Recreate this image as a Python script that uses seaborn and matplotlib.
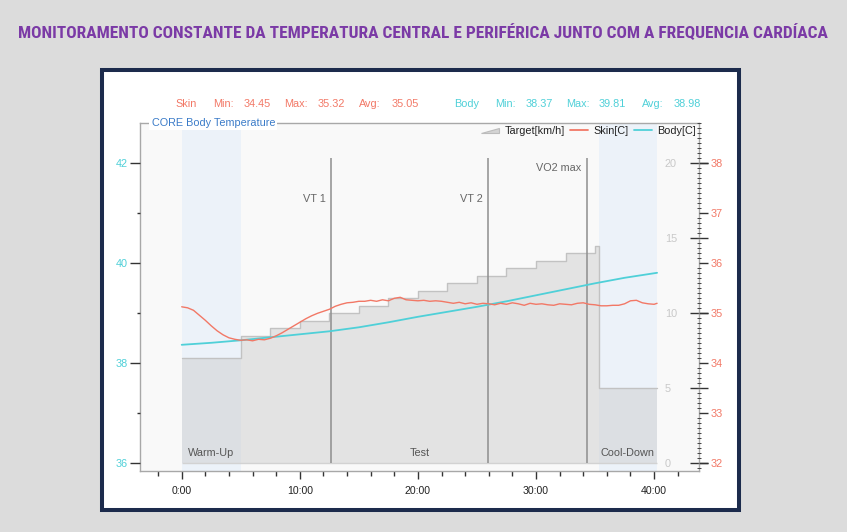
import matplotlib
matplotlib.use("Agg")
import matplotlib.pyplot as plt
import seaborn as sns
import numpy as np
import pandas as pd
from matplotlib.patches import Rectangle, Polygon
from matplotlib.lines import Line2D
from matplotlib.legend_handler import HandlerPatch
from matplotlib.ticker import MultipleLocator, FixedLocator
from matplotlib import font_manager

# ---------------- data ----------------
title = "MONITORAMENTO CONSTANTE DA TEMPERATURA CENTRAL E PERIFÉRICA JUNTO COM A FREQUENCIA CARDÍACA"

skin_minutes = [0, 0.5, 1, 1.5, 2, 2.5, 3, 3.5, 4, 4.5, 5, 5.5, 6, 6.5, 7, 7.5, 8, 8.5, 9, 9.5,
                10, 10.5, 11, 11.5, 12, 12.5, 13, 13.5, 14, 14.5, 15, 15.5, 16, 16.5, 17, 17.5,
                18, 18.5, 19, 19.5, 20, 20.5, 21, 21.5, 22, 22.5, 23, 23.5, 24, 24.5, 25, 25.5,
                26, 26.5, 27, 27.5, 28, 28.5, 29, 29.5, 30, 30.5, 31, 31.5, 32, 32.5, 33, 33.5,
                34, 34.5, 35, 35.5, 36, 36.5, 37, 37.5, 38, 38.5, 39, 39.5, 40, 40.25]
skin_c = [35.13, 35.11, 35.06, 34.96, 34.86, 34.75, 34.65, 34.57, 34.51, 34.48, 34.46, 34.47,
          34.45, 34.48, 34.47, 34.50, 34.55, 34.61, 34.68, 34.75, 34.82, 34.89, 34.95, 35.00,
          35.04, 35.08, 35.14, 35.18, 35.21, 35.22, 35.24, 35.24, 35.26, 35.24, 35.27, 35.25,
          35.30, 35.32, 35.27, 35.26, 35.25, 35.26, 35.24, 35.25, 35.24, 35.22, 35.20, 35.22,
          35.19, 35.21, 35.18, 35.20, 35.19, 35.17, 35.20, 35.18, 35.21, 35.19, 35.16, 35.20,
          35.18, 35.19, 35.17, 35.16, 35.19, 35.18, 35.17, 35.20, 35.21, 35.18, 35.17, 35.15,
          35.15, 35.16, 35.16, 35.19, 35.25, 35.26, 35.21, 35.19, 35.18, 35.20]

body_minutes = [0, 2.5, 5, 7.5, 10, 12.5, 15, 17.5, 20, 22.5, 25, 27.5, 30, 32.5, 35, 37.5, 40.25]
body_c = [38.37, 38.41, 38.46, 38.52, 38.58, 38.64, 38.72, 38.82, 38.93, 39.03, 39.13, 39.24,
          39.36, 39.48, 39.60, 39.71, 39.81]

target_start = [0, 5, 7.5, 10, 12.5, 15, 17.5, 20, 22.5, 25, 27.5, 30, 32.5, 35, 35.3]
target_kmh = [7.0, 8.5, 9.0, 9.5, 10.0, 10.5, 11.0, 11.5, 12.0, 12.5, 13.0, 13.5, 14.0, 14.5, 5.0]
session_end = 40.25

phases = ["Warm-Up", "Test", "Cool-Down"]
phase_start = [0, 5, 35.3]
phase_end = [5, 35.3, 40.25]
highlighted_phases = ["Warm-Up", "Cool-Down"]

events = ["VT 1", "VT 2", "VO2 max"]
event_minutes = [12.65, 25.9, 34.3]

stat_names = ["Min:", "Max:", "Avg:"]
skin_stats = ["34.45", "35.32", "35.05"]
body_stats = ["38.37", "39.81", "38.98"]

x_ticks = [0, 10, 20, 30, 40]
x_tick_labels = ["0:00", "10:00", "20:00", "30:00", "40:00"]
body_ticks = [36, 38, 40, 42]
skin_ticks = [32, 33, 34, 35, 36, 37, 38]
speed_ticks = [0, 5, 10, 15, 20]

# ---------------- style ----------------
sns.set_theme(style="white")
avail = {f.name for f in font_manager.fontManager.ttflist}
base_family = "Liberation Sans" if "Liberation Sans" in avail else "DejaVu Sans"
title_family = next((f for f in ["Liberation Sans Narrow", "Roboto Condensed", "Open Sans Condensed",
                                 "DejaVu Sans"] if f in avail), "DejaVu Sans")
plt.rcParams["font.family"] = [base_family, "DejaVu Sans"]

SKIN = "#f27866"
BODY = "#4fd0d8"
FS = 7.8
W, H = 847, 532


def fx(px):
    return px / W


def fy(py):
    return 1 - py / H


fig = plt.figure(figsize=(W / 100, H / 100), dpi=100, facecolor="#dcdcdc")

# white panel with navy frame (behind the axes)
fig.patches.append(Rectangle((fx(102), fy(510)), fx(738.5) - fx(102), fy(69.7) - fy(510),
                             transform=fig.transFigure, facecolor="white", edgecolor="#1c2b4c",
                             linewidth=2.9, zorder=-5))

ax = fig.add_axes([fx(140), fy(471.2), fx(699) - fx(140), fy(123) - fy(471.2)])
axb = ax.twinx()
axs = ax.twinx()

ax.set_facecolor("#f9f9f9")
ax.set_xlim(-3.53, 43.8)
ax.set_ylim(-0.527, 22.687)
axb.set_ylim(35.842, 42.806)
axs.set_ylim(31.842, 38.806)

# phase bands
for name, s, e in zip(phases, phase_start, phase_end):
    if name in highlighted_phases:
        ax.axvspan(s, e, color="#ecf2f9", lw=0, zorder=0.5)
    ax.text((s + e) / 2, 0.67, name, ha="center", va="center", color="#555555", fontsize=FS, zorder=4)

# target speed area
tx = target_start + [session_end]
ty = target_kmh + [target_kmh[-1]]
ax.fill_between(tx, 0, ty, step="post", facecolor="#c8c8c8", alpha=0.43, lw=0, zorder=1)
ax.step(tx, ty, where="post", color="#c2c2c2", lw=1.0, zorder=1.2)
ax.hlines(0, 0, session_end, color="#d2d2d2", lw=1.0, zorder=1.2)

# event markers
ax.vlines(event_minutes, 0, 20.33, color="#8e8e8e", lw=1.1, zorder=2)
for name, t in zip(events, event_minutes):
    yy = 19.67 if name == "VO2 max" else 17.6
    ax.text(t - 0.45, yy, name, ha="right", va="center", color="#666666", fontsize=FS, zorder=4)

# curves
body_df = pd.DataFrame({"minute": body_minutes, "body": body_c})
skin_df = pd.DataFrame({"minute": skin_minutes, "skin": skin_c})
sns.lineplot(data=body_df, x="minute", y="body", ax=axb, color=BODY, lw=1.3)
sns.lineplot(data=skin_df, x="minute", y="skin", ax=axs, color=SKIN, lw=1.0)
for a in (ax, axb, axs):
    a.set_xlabel("")
    a.set_ylabel("")

# ---------- axes / ticks ----------
ax.set_xticks(x_ticks, x_tick_labels)
ax.xaxis.set_minor_locator(MultipleLocator(2))
ax.tick_params(axis="x", which="major", direction="out", length=6, width=1, color="#333333",
               labelsize=7.6, labelcolor="#222222", pad=4.5, bottom=True)
ax.tick_params(axis="x", which="minor", direction="out", length=3.5, width=1, color="#333333", bottom=True)

ax.yaxis.tick_right()
ax.set_yticks(speed_ticks)
ax.tick_params(axis="y", which="major", direction="inout", length=13, width=1, color="#333333",
               labelsize=FS, labelcolor="#c8c8c8", pad=-31, right=True, left=False)

axb.yaxis.tick_left()
axb.set_yticks(body_ticks)
axb.yaxis.set_minor_locator(FixedLocator([37, 39, 41]))
axb.tick_params(axis="y", which="major", direction="out", length=7, width=1, color="#333333",
                labelsize=FS, labelcolor=BODY, pad=1.5, left=True, right=False)
axb.tick_params(axis="y", which="minor", direction="out", length=2.5, width=1, color="#333333",
                left=True, right=False)

axs.set_yticks(skin_ticks)
axs.yaxis.set_minor_locator(MultipleLocator(0.1))
axs.tick_params(axis="y", which="major", direction="out", length=6.5, width=1, color="#333333",
                labelsize=FS, labelcolor=SKIN, pad=2, right=True, left=False)
axs.tick_params(axis="y", which="minor", direction="inout", length=3, width=0.7, color="#444444",
                right=True, left=False)

for sp in ax.spines.values():
    sp.set_color("#a8a8a8")
    sp.set_linewidth(1)
    sp.set_visible(True)
for a in (axb, axs):
    for sp in a.spines.values():
        sp.set_visible(False)

# legend
def tri_patch(legend, orig_handle, xdescent, ydescent, width, height, fontsize):
    x0, y0 = -xdescent, -ydescent
    return Polygon([[x0, y0 + height * 0.1], [x0 + width, y0 + height * 0.1],
                    [x0 + width, y0 + height * 0.8]], closed=True)


target_handle = Polygon([[0, 0], [1, 0], [1, 1]], facecolor="#d4d4d4", edgecolor="#bcbcbc", lw=0.8)
handles = [target_handle, Line2D([], [], color=SKIN, lw=1.3), Line2D([], [], color=BODY, lw=1.3)]
labels = ["Target[km/h]", "Skin[C]", "Body[C]"]
leg = axs.legend(handles, labels, loc="upper right", bbox_to_anchor=(1.0, 1.0), frameon=False,
                 ncol=3, fontsize=FS, handlelength=1.7, columnspacing=0.5, handletextpad=0.45,
                 borderaxespad=0.1, borderpad=0.2,
                 handler_map={Polygon: HandlerPatch(patch_func=tri_patch)})
for t in leg.get_texts():
    t.set_color("#222222")

# frame caption
fig.text(fx(151.5), fy(123.3), "CORE Body Temperature", ha="left", va="center", color="#3a7bc8",
         fontsize=FS, bbox=dict(facecolor="white", edgecolor="none", pad=1.5))

# stats line
skin_x = [175, 212.7, 243.3, 284, 317.7, 359.3, 391.7]
body_x = [454, 495, 525.7, 566, 598.3, 641.7, 673.3]
skin_items = ["Skin"] + [v for pair in zip(stat_names, skin_stats) for v in pair]
body_items = ["Body"] + [v for pair in zip(stat_names, body_stats) for v in pair]
for s, x in zip(skin_items, skin_x):
    fig.text(fx(x), fy(107.3), s, ha="left", va="baseline", color=SKIN, fontsize=FS)
for s, x in zip(body_items, body_x):
    fig.text(fx(x), fy(107.3), s, ha="left", va="baseline", color=BODY, fontsize=FS)

# title, fitted to the reference width
tt = fig.text(fx(423.4), fy(37.5), title, ha="center", va="baseline", color="#7b3aa6",
              fontsize=14, fontweight="bold", family=[title_family, "DejaVu Sans"])
fig.canvas.draw()
w = tt.get_window_extent().width
tt.set_fontsize(min(14 * 813 / w, 16))

fig.savefig("out.png", dpi=100, facecolor=fig.get_facecolor())
